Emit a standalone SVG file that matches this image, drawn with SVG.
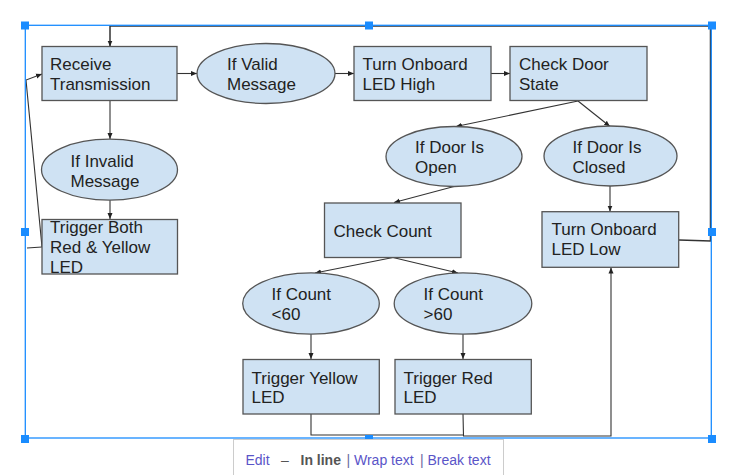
<svg xmlns="http://www.w3.org/2000/svg" width="753" height="475" viewBox="0 0 753 475">
<style>
.box{fill:#cfe2f3;stroke:#555;stroke-width:1.3}
.t{font-family:"Liberation Sans",Arial,sans-serif;font-size:17px;fill:#222}
.c{fill:none;stroke:#333;stroke-width:1.1}
.sel{fill:none;stroke:#1a8cff;stroke-width:1.3}
.h{fill:#1a8cff}
.tb{font-family:"Liberation Sans",Arial,sans-serif;font-size:14px}
</style>
<defs>
<marker id="ah" markerUnits="userSpaceOnUse" markerWidth="7" markerHeight="6" refX="6" refY="3" orient="auto">
<path d="M0,0.5 L6,3 L0,5.5 z" fill="#222"/>
</marker>
</defs>
<rect width="753" height="475" fill="#fff"/>
<g id="connectors">
<line class="c" x1="177" y1="73.5" x2="197" y2="73.5" marker-end="url(#ah)"/>
<line class="c" x1="335" y1="73.5" x2="354" y2="73.5" marker-end="url(#ah)"/>
<line class="c" x1="491" y1="73.5" x2="510" y2="73.5" marker-end="url(#ah)"/>
<line class="c" x1="110" y1="100" x2="110" y2="139" marker-end="url(#ah)"/>
<line class="c" x1="110" y1="200" x2="110" y2="219" marker-end="url(#ah)"/>
<line class="c" x1="578" y1="101" x2="456" y2="126.5" marker-end="url(#ah)"/>
<line class="c" x1="578" y1="101" x2="610" y2="126.5" marker-end="url(#ah)"/>
<line class="c" x1="610" y1="186" x2="610" y2="211.5" marker-end="url(#ah)"/>
<line class="c" x1="454" y1="186.5" x2="394" y2="202.5" marker-end="url(#ah)"/>
<line class="c" x1="393" y1="257.5" x2="315" y2="273" marker-end="url(#ah)"/>
<line class="c" x1="393" y1="257.5" x2="458" y2="273" marker-end="url(#ah)"/>
<line class="c" x1="311" y1="334" x2="311" y2="359" marker-end="url(#ah)"/>
<line class="c" x1="463" y1="334" x2="463" y2="359" marker-end="url(#ah)"/>
<polyline class="c" points="311,414 311,435 463,435"/>
<polyline class="c" points="463,414 463.5,436 611,436 611,267.5" marker-end="url(#ah)"/>
<polyline class="c" points="679,240 710.5,241 710.5,26 110,26 110,46.5" marker-end="url(#ah)" style="stroke-width:1.5"/>
<line class="c" x1="27" y1="248" x2="42" y2="247"/>
<polyline class="c" points="42,247 26,80 42,74" marker-end="url(#ah)"/>
</g>
<g id="receive"><rect class="box" x="42" y="46.5" width="135" height="54"/><text class="t" x="50" y="70">Receive</text><text class="t" x="50" y="90">Transmission</text></g>
<g id="valid"><ellipse class="box" cx="266" cy="73.5" rx="69" ry="30"/><text class="t" x="227" y="70">If Valid</text><text class="t" x="227" y="90">Message</text></g>
<g id="ledhigh"><rect class="box" x="354" y="46.5" width="137" height="54"/><text class="t" x="362.5" y="70">Turn Onboard</text><text class="t" x="362.5" y="90">LED High</text></g>
<g id="checkdoor"><rect class="box" x="510" y="46.5" width="137" height="54"/><text class="t" x="519" y="70">Check Door</text><text class="t" x="519" y="90">State</text></g>
<g id="invalid"><ellipse class="box" cx="109.5" cy="169.7" rx="68" ry="30.5"/><text class="t" x="70.5" y="166.5">If Invalid</text><text class="t" x="70.5" y="186.5">Message</text></g>
<g id="triggerboth"><rect class="box" x="42" y="219.5" width="135.5" height="54.5"/><text class="t" x="50" y="232.7">Trigger Both</text><text class="t" x="50" y="252.7">Red &amp; Yellow</text><text class="t" x="50" y="272.7">LED</text></g>
<g id="dooropen"><ellipse class="box" cx="454" cy="156.5" rx="68" ry="30"/><text class="t" x="415" y="153">If Door Is</text><text class="t" x="415" y="173">Open</text></g>
<g id="doorclosed"><ellipse class="box" cx="610.5" cy="156" rx="66.5" ry="30"/><text class="t" x="572.5" y="153">If Door Is</text><text class="t" x="572.5" y="173">Closed</text></g>
<g id="ledlow"><rect class="box" x="542" y="211.7" width="136.7" height="55.6"/><text class="t" x="551.5" y="235">Turn Onboard</text><text class="t" x="551.5" y="255">LED Low</text></g>
<g id="checkcount"><rect class="box" x="324.5" y="203" width="136.5" height="54.5"/><text class="t" x="333.5" y="236.5">Check Count</text></g>
<g id="countlt"><ellipse class="box" cx="311" cy="303.5" rx="68.3" ry="30.7"/><text class="t" x="271.5" y="300">If Count</text><text class="t" x="271.5" y="320">&lt;60</text></g>
<g id="countgt"><ellipse class="box" cx="463" cy="303.5" rx="68.8" ry="30.7"/><text class="t" x="423.5" y="300">If Count</text><text class="t" x="423.5" y="320">&gt;60</text></g>
<g id="yellow"><rect class="box" x="243" y="359.5" width="136.3" height="54.5"/><text class="t" x="251.5" y="383.5">Trigger Yellow</text><text class="t" x="251.5" y="403">LED</text></g>
<g id="red"><rect class="box" x="395" y="359.5" width="136.3" height="54.5"/><text class="t" x="403.5" y="383.5">Trigger Red</text><text class="t" x="403.5" y="403">LED</text></g>
<g id="selection">
<rect class="sel" x="25.3" y="25.3" width="686" height="412.7"/>
<rect class="h" x="21" y="21.5" width="8" height="8"/>
<rect class="h" x="365" y="21.5" width="8" height="8"/>
<rect class="h" x="708" y="21.5" width="8" height="8"/>
<rect class="h" x="21" y="228" width="8" height="8"/>
<rect class="h" x="708" y="228" width="8" height="8"/>
<rect class="h" x="21" y="435" width="8" height="8"/>
<rect class="h" x="365" y="435" width="8" height="8"/>
<rect class="h" x="708" y="435" width="8" height="8"/>
</g>
<g id="toolbar">
<rect x="233.5" y="439.5" width="270" height="40" fill="#fff" stroke="#ccc"/>
<text class="tb" x="245.5" y="465" fill="#5a55c8">Edit</text>
<text class="tb" x="281" y="465" fill="#555">–</text>
<text class="tb" x="300.5" y="465" fill="#555" font-weight="bold">In line</text>
<text class="tb" x="346.5" y="465" fill="#6a6aa0">|</text>
<text class="tb" x="354" y="465" fill="#5a55c8">Wrap text</text>
<text class="tb" x="420" y="465" fill="#6a6aa0">|</text>
<text class="tb" x="427.5" y="465" fill="#5a55c8">Break text</text>
</g>
</svg>
